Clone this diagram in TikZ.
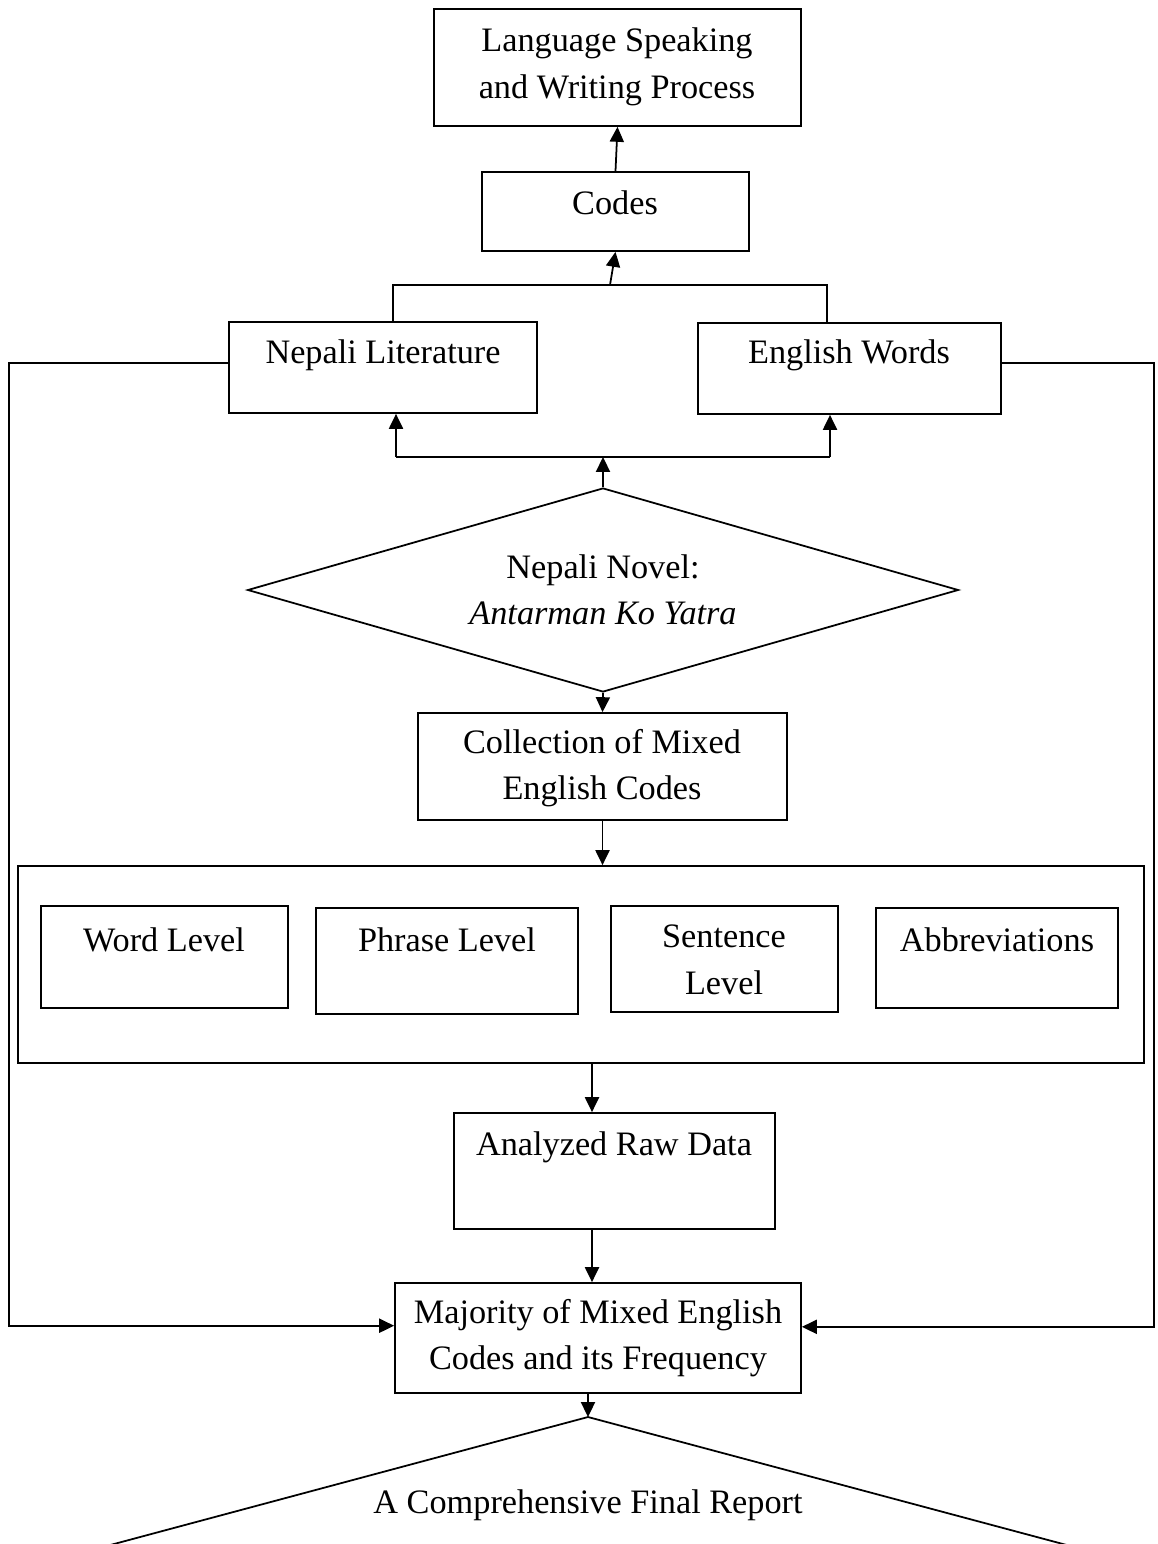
\documentclass[tikz,border=0pt]{standalone}
\usepackage{fontspec}
\setmainfont{Liberation Serif}
\usetikzlibrary{fit,shapes.geometric,arrows.meta,calc}
\begin{document}
\begin{tikzpicture}[x=0.02cm,y=-0.02cm,
  box/.style={draw, line width=1pt, inner sep=0pt},
  txt/.style={font=\fontsize{19.5}{26.5}\selectfont, align=center, inner sep=0pt},
  arr/.style={line width=1pt, -{Triangle[length=8.5pt,width=8pt]}},
  ln/.style={line width=1pt}]
\useasboundingbox (0,0) rectangle (1157,1544);
% boxes
\node[box, fit={(434,9) (801,126)}] (top) {};
\node[box, fit={(482,172) (749,251)}] (cd) {};
\node[box, fit={(229,322) (537,413)}] (nl) {};
\node[box, fit={(698,323) (1001,414)}] (ew) {};
\node[box, fit={(418,713) (787,820)}] (col) {};
\node[box, fit={(18,866) (1144,1063)}] (cont) {};
\node[box, fit={(41,906) (288,1008)}] (wl) {};
\node[box, fit={(316,908) (578,1014)}] (pl) {};
\node[box, fit={(611,906) (838,1012)}] (sl) {};
\node[box, fit={(876,908) (1118,1008)}] (ab) {};
\node[box, fit={(454,1113) (775,1229)}] (ar) {};
\node[box, fit={(395,1283) (801,1393)}] (mj) {};
\node[draw, line width=1pt, diamond, aspect=3.5, inner sep=0pt,
      minimum width=14.22cm, minimum height=4.08cm, txt] (dm) at (603,590)
      {Nepali Novel:\\\textit{Antarman Ko Yatra}};
% texts
\node[txt] (topt) at (617,67) {Language Speaking\\and Writing Process};
\node[txt] (cdt) at (615,203) {Codes};
\node[txt] (nlt) at (383,355) {Nepali Literature};
\node[txt] (ewt) at (849,355) {English Words};
\node[txt] (colt) at (602,768) {Collection of Mixed\\English Codes};
\node[txt] (wlt) at (164,940) {Word Level};
\node[txt] (plt) at (447,940) {Phrase Level};
\node[txt] (slt) at (724,960) {Sentence\\Level};
\node[txt] (abt) at (997,940) {Abbreviations};
\node[txt] (art) at (614,1147) {Analyzed Raw Data};
\node[txt] (mjt) at (598,1338) {Majority of Mixed English\\Codes and its Frequency};
\node[txt] (fin) at (588,1505) {A Comprehensive Final Report};
% connectors
\draw[arr] (cd.north) -- (top.south);
\coordinate (ja) at (393,285);
\coordinate (jb) at (827,285);
\draw[ln] (nl.north -| ja) -- (ja) -- (jb) -- (ew.north -| jb);
\draw[arr] ($(ja)!0.5!(jb)$) -- (cd.south);
\coordinate (ka) at (396,457);
\coordinate (kb) at (830,457);
\draw[ln] (ka) -- (kb);
\draw[arr] (dm.north) -- (dm.north |- ka);
\draw[arr] (ka) -- (ka |- nl.south);
\draw[arr] (kb) -- (kb |- ew.south);
\draw[arr] (dm.south) -- (col.north);
\draw[arr] (col.south) -- (col.south |- cont.north);
\coordinate (c1) at (592,0);
\draw[arr] (cont.south -| c1) -- (ar.north -| c1);
\draw[arr] (ar.south -| c1) -- (mj.north -| c1);
\coordinate (apex) at (588,1417);
\draw[arr] (mj.south -| apex) -- (apex);
\draw[ln] (91.6,1550) -- (apex) -- (1085.4,1550);
% feedback lines
\coordinate (lf) at (9,363);
\coordinate (rf) at (1154,363);
\coordinate (mjl) at ($(mj.north west)!0.39!(mj.south west)$);
\coordinate (mjr) at ($(mj.north east)!0.40!(mj.south east)$);
\draw[arr] (nl.west |- lf) -- (lf) -- (lf |- mjl) -- (mjl);
\draw[arr] (ew.east |- rf) -- (rf) -- (rf |- mjr) -- (mjr);
\end{tikzpicture}
\end{document}
